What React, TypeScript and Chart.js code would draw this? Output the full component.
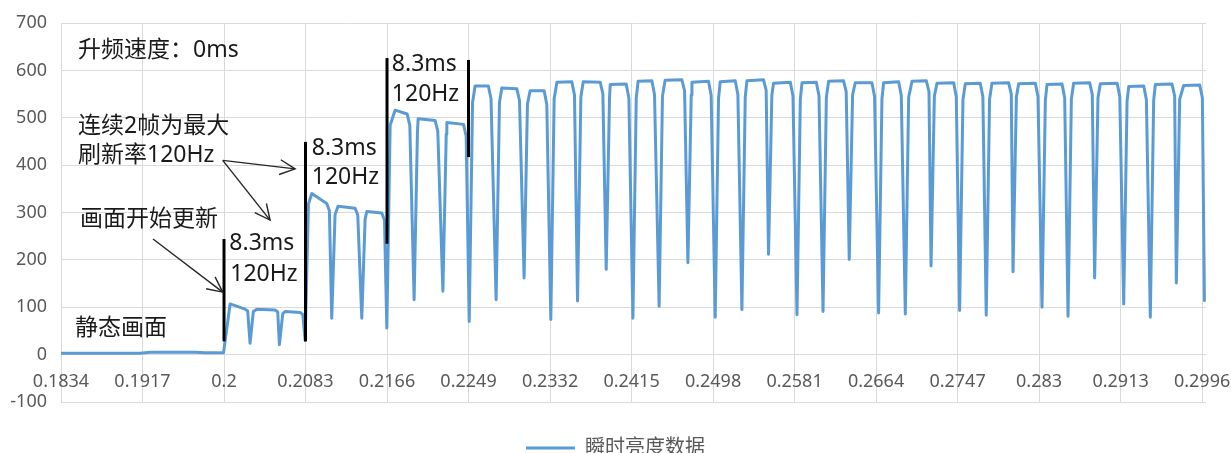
import React, { useEffect, useRef } from "react";
import { Chart, registerables } from "chart.js";

Chart.register(...registerables);

// ---------- data ----------
const seriesName = "瞬时亮度数据";

const xTickValues = [
  0.1834, 0.1917, 0.2, 0.2083, 0.2166, 0.2249, 0.2332, 0.2415, 0.2498, 0.2581,
  0.2664, 0.2747, 0.283, 0.2913, 0.2996,
];

// static picture before refresh starts
const staticT = [0.1834, 0.19145, 0.19247, 0.19705, 0.19807, 0.19995];
const staticV = [3, 3, 5, 5, 4, 4];

// bright plateaus between dips (start time, end time, start value, end value)
const plateauStartT = [
  0.20062, 0.20334, 0.20622, 0.20894, 0.21161, 0.21454, 0.21742, 0.21977, 0.22269,
  0.22557, 0.22829, 0.23117, 0.2339, 0.23658, 0.23933, 0.24217, 0.24492, 0.24765,
  0.25053, 0.25325, 0.25596, 0.25886, 0.26157, 0.26428, 0.26717, 0.27006, 0.27261,
  0.27549, 0.2782, 0.28092, 0.28381, 0.28652, 0.28924, 0.29213, 0.29484, 0.29772,
];
const plateauEndT = [
  0.20214, 0.2052, 0.20775, 0.21046, 0.21335, 0.21607, 0.21865, 0.2215, 0.22439,
  0.22692, 0.22982, 0.2326, 0.23542, 0.23831, 0.24096, 0.24357, 0.24663, 0.24934,
  0.25206, 0.25494, 0.25767, 0.26032, 0.26309, 0.26598, 0.2687, 0.27152, 0.2743,
  0.27701, 0.2799, 0.28262, 0.28534, 0.28815, 0.29095, 0.29366, 0.29654, 0.29936,
];
const plateauStartV = [
  107, 96, 91, 340, 313, 302, 516, 498, 490, 567, 563, 557, 575, 576, 570, 577, 579,
  575, 576, 578, 573, 574, 577, 574, 574, 577, 573, 572, 573, 572, 570, 573, 572,
  566, 570, 568,
];
const plateauEndV = [
  96, 94, 89, 319, 309, 299, 508, 494, 486, 567, 561, 557, 576, 575, 571, 578, 580,
  577, 578, 580, 575, 575, 578, 574, 576, 578, 574, 573, 574, 573, 571, 574, 573,
  567, 571, 569,
];

// shoulder where each falling edge turns steep (one per plateau)
const fallKneeT = [
  0.20241, 0.20547, 0.20802, 0.21073, 0.21362, 0.21634, 0.21892, 0.22177, 0.22466,
  0.22719, 0.23009, 0.23287, 0.23569, 0.23858, 0.24123, 0.24384, 0.2469, 0.24961,
  0.25233, 0.25521, 0.25794, 0.26059, 0.26336, 0.26625, 0.26897, 0.27179, 0.27457,
  0.27728, 0.28017, 0.28289, 0.28561, 0.28842, 0.29122, 0.29393, 0.29681, 0.29963,
];
const fallKneeV = [
  92, 90, 85, 304, 295, 284, 484, 472, 461, 540, 537, 528, 548, 551, 541, 549, 557,
  547, 549, 558, 546, 546, 555, 545, 547, 555, 545, 544, 550, 545, 542, 549, 545,
  538, 546, 542,
];

// dark dips
const dipT = [
  0.20265, 0.20564, 0.20826, 0.21097, 0.21403, 0.21658, 0.21936, 0.22229, 0.22497,
  0.22771, 0.23056, 0.23328, 0.236, 0.23892, 0.24164, 0.24431, 0.24724, 0.25002,
  0.25274, 0.25545, 0.25835, 0.261, 0.26367, 0.26666, 0.26938, 0.272, 0.27491,
  0.27762, 0.28035, 0.2833, 0.28595, 0.28866, 0.29162, 0.29433, 0.29698,
];
const dipV = [
  24, 21, 30, 77, 77, 56, 116, 134, 70, 116, 162, 74, 113, 180, 77, 102, 194, 79, 95,
  212, 84, 91, 201, 88, 86, 187, 93, 83, 175, 100, 81, 162, 107, 79, 151,
];

// point where each rising edge bends into the plateau (one per dip)
const riseKneeT = [
  0.20299, 0.20598, 0.2086, 0.21131, 0.21437, 0.21692, 0.2197, 0.22263, 0.22531,
  0.22805, 0.2309, 0.23362, 0.23634, 0.23926, 0.24198, 0.24465, 0.24758, 0.25036,
  0.25308, 0.25579, 0.25869, 0.26134, 0.26401, 0.267, 0.26972, 0.27234, 0.27525,
  0.27796, 0.28069, 0.28364, 0.28629, 0.289, 0.29196, 0.29467, 0.29732,
];
const riseKneeV = [
  91, 86, 318, 296, 286, 484, 471, 465, 532, 532, 529, 540, 544, 543, 542, 546, 548,
  541, 544, 548, 540, 543, 548, 540, 543, 546, 538, 539, 544, 537, 539, 543, 534,
  536, 539,
];

const endT = 0.29984;
const endV = 114;

// annotations (black frame markers)
const markerT = [0.2, 0.2083, 0.2166, 0.2249];
const markerTop = [244, 449, 626, 622];
const markerBottom = [28, 28, 234, 417];

const annoText = [
  "升频速度：0ms",
  "连续2帧为最大",
  "刷新率120Hz",
  "画面开始更新",
  "静态画面",
  "8.3ms",
  "120Hz",
  "8.3ms",
  "120Hz",
  "8.3ms",
  "120Hz",
];
const annoT = [
  0.18513, 0.18513, 0.18513, 0.18534, 0.18483, 0.20054, 0.20064, 0.20894, 0.20894,
  0.21709, 0.21709,
];
const annoV = [642, 482, 421, 285, 55, 234, 170, 435, 374, 612, 549];

const arrowFromT = [0.19987, 0.19987, 0.19277];
const arrowFromV = [410, 410, 244];
const arrowToT = [0.20724, 0.20469, 0.19987];
const arrowToV = [392, 284, 132];

// ---------- helpers ----------
const FONT = '"Noto Sans", "Noto Sans CJK SC", sans-serif';

function buildPoints() {
  const pts: { x: number; y: number }[] = [];
  staticT.forEach((t, i) => pts.push({ x: t, y: staticV[i] }));
  for (let i = 0; i < plateauStartT.length; i++) {
    pts.push({ x: plateauStartT[i], y: plateauStartV[i] });
    pts.push({ x: plateauEndT[i], y: plateauEndV[i] });
    pts.push({ x: fallKneeT[i], y: fallKneeV[i] });
    if (i < dipT.length) {
      pts.push({ x: dipT[i], y: dipV[i] });
      pts.push({ x: riseKneeT[i], y: riseKneeV[i] });
    }
  }
  pts.push({ x: endT, y: endV });
  return pts;
}

const annotationPlugin = {
  id: "annotations",
  afterDatasetsDraw(chart: any) {
    const { ctx } = chart;
    const xs = chart.scales.x;
    const ys = chart.scales.y;
    ctx.save();
    // vertical black markers
    ctx.strokeStyle = "#000000";
    ctx.lineWidth = 3;
    markerT.forEach((t, i) => {
      const px = xs.getPixelForValue(t);
      ctx.beginPath();
      ctx.moveTo(px, ys.getPixelForValue(markerTop[i]));
      ctx.lineTo(px, ys.getPixelForValue(markerBottom[i]));
      ctx.stroke();
    });
    // arrows
    ctx.strokeStyle = "#262626";
    ctx.lineWidth = 1.4;
    arrowFromT.forEach((t, i) => {
      const x1 = xs.getPixelForValue(t);
      const y1 = ys.getPixelForValue(arrowFromV[i]);
      const x2 = xs.getPixelForValue(arrowToT[i]);
      const y2 = ys.getPixelForValue(arrowToV[i]);
      ctx.beginPath();
      ctx.moveTo(x1, y1);
      ctx.lineTo(x2, y2);
      ctx.stroke();
      const ang = Math.atan2(y1 - y2, x1 - x2);
      const L = 17;
      const th = (26 * Math.PI) / 180;
      ctx.beginPath();
      ctx.moveTo(x2 + L * Math.cos(ang + th), y2 + L * Math.sin(ang + th));
      ctx.lineTo(x2, y2);
      ctx.lineTo(x2 + L * Math.cos(ang - th), y2 + L * Math.sin(ang - th));
      ctx.stroke();
    });
    // texts
    ctx.fillStyle = "#1a1a1a";
    ctx.font = `23px ${FONT}`;
    ctx.textAlign = "left";
    ctx.textBaseline = "middle";
    annoText.forEach((s, i) => {
      ctx.fillText(s, xs.getPixelForValue(annoT[i]), ys.getPixelForValue(annoV[i]));
    });
    ctx.restore();
  },
};

export default function App() {
  const canvasRef = useRef<HTMLCanvasElement | null>(null);

  useEffect(() => {
    if (!canvasRef.current) return;
    const chart = new Chart(canvasRef.current, {
      type: "line",
      data: {
        datasets: [
          {
            label: seriesName,
            data: buildPoints(),
            borderColor: "#5B9BD5",
            backgroundColor: "#5B9BD5",
            borderWidth: 3,
            pointRadius: 0,
            pointHoverRadius: 0,
            tension: 0,
            fill: false,
            borderJoinStyle: "round",
            borderCapStyle: "round",
          },
        ],
      },
      options: {
        animation: false,
        responsive: false,
        devicePixelRatio: 1,
        layout: { padding: { left: 0, right: 0, top: 23, bottom: 0 } },
        scales: {
          x: {
            type: "linear",
            min: 0.1834,
            max: 0.3,
            position: { y: 0 } as any,
            afterBuildTicks: (s: any) => {
              s.ticks = xTickValues.map((v) => ({ value: v }));
            },
            afterFit: (s: any) => {
              s.paddingLeft = 0;
              s.paddingRight = 25;
            },
            grid: { color: "#D9D9D9", lineWidth: 1, drawTicks: false },
            border: { display: false },
            ticks: {
              color: "#595959",
              font: { family: FONT, size: 18 },
              padding: 16,
              maxRotation: 0,
              autoSkip: false,
              callback: (v: any) => String(Number(Number(v).toFixed(4))),
            },
          },
          y: {
            type: "linear",
            min: -100,
            max: 700,
            afterFit: (s: any) => {
              s.width = 61;
              s.paddingTop = 0;
              s.paddingBottom = 0;
            },
            grid: { color: "#D9D9D9", lineWidth: 1, drawTicks: false },
            border: { display: false },
            ticks: {
              stepSize: 100,
              color: "#595959",
              font: { family: FONT, size: 18 },
              padding: 14,
            },
          },
        },
        plugins: {
          legend: {
            position: "bottom",
            labels: {
              usePointStyle: true,
              pointStyle: "line",
              pointStyleWidth: 49,
              color: "#595959",
              font: { family: FONT, size: 20 },
              padding: 36,
            },
          },
          tooltip: { enabled: false },
        },
      },
      plugins: [annotationPlugin],
    } as any);
    return () => chart.destroy();
  }, []);

  return (
    <div
      style={{
        position: "absolute",
        left: 0,
        top: 0,
        width: 1231,
        height: 453,
        overflow: "hidden",
        background: "#ffffff",
      }}
    >
      <canvas ref={canvasRef} width={1231} height={468} style={{ display: "block" }} />
    </div>
  );
}
